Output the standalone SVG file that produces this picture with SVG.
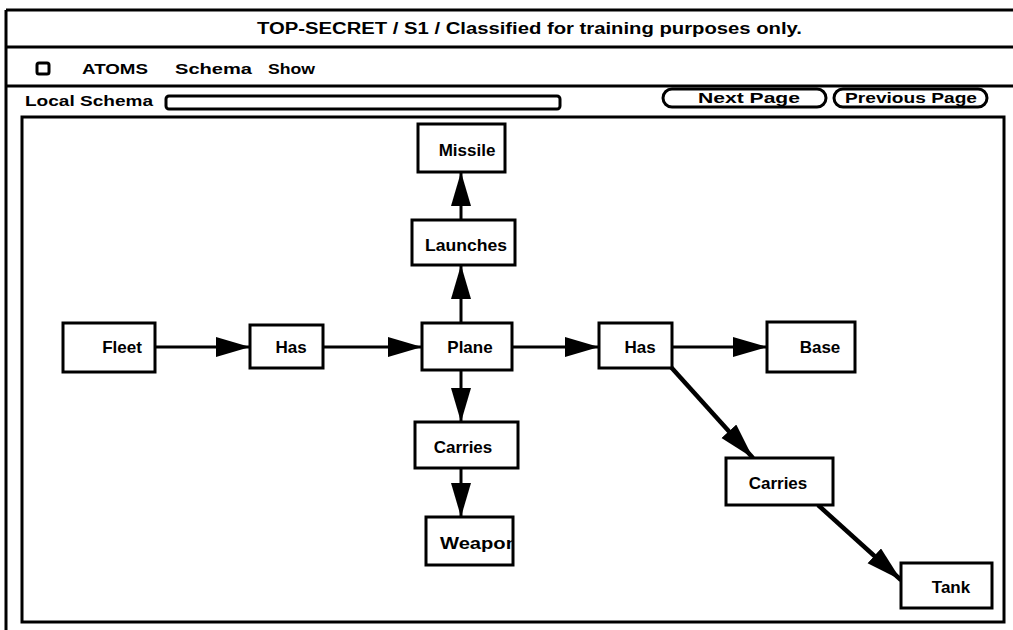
<svg xmlns="http://www.w3.org/2000/svg" width="1013" height="630" viewBox="0 0 1013 630">
<style>
  text { font-family: "Liberation Sans", Arial, sans-serif; font-weight: bold; fill: #000; }
  .frame { fill: none; stroke: #000; stroke-width: 3; }
  .node rect { fill: #fff; stroke: #000; stroke-width: 3; }
  .node text { font-size: 17px; text-anchor: middle; }
  .conn line { stroke: #000; stroke-width: 3; marker-end: url(#arrow); }
  .conn line.diag { stroke-width: 4.5; marker-end: url(#arrowD); }
  .ui { font-size: 15px; }
  .btn { fill: #fff; stroke: #000; stroke-width: 3; }
</style>
<defs>
  <marker id="arrow" markerUnits="userSpaceOnUse" markerWidth="36" markerHeight="22" refX="34" refY="10" orient="auto">
    <path d="M0,0 L34,10 L0,20 Z" fill="#000"/>
  </marker>
  <marker id="arrowD" markerUnits="userSpaceOnUse" markerWidth="38" markerHeight="22" refX="36" refY="10" orient="auto">
    <path d="M0,0 L36,10 L0,20 Z" fill="#000"/>
  </marker>
  <clipPath id="weaponClip"><rect x="426" y="517" width="86" height="48"/></clipPath>
</defs>
<rect x="0" y="0" width="1013" height="630" fill="#fff"/>

<g id="window">
  <line x1="6" y1="10" x2="1013" y2="10" stroke="#000" stroke-width="3"/>
  <line x1="6" y1="10" x2="6" y2="630" stroke="#000" stroke-width="3"/>
  <line x1="6" y1="47" x2="1013" y2="47" stroke="#000" stroke-width="3"/>
  <line x1="6" y1="86" x2="1013" y2="86" stroke="#000" stroke-width="3"/>
  <text x="257" y="34" font-size="16" textLength="545" lengthAdjust="spacingAndGlyphs">TOP-SECRET / S1 / Classified for training purposes only.</text>
  <rect x="37" y="63" width="12" height="11" rx="2" class="frame"/>
  <text class="ui" x="82" y="74" textLength="66" lengthAdjust="spacingAndGlyphs">ATOMS</text>
  <text class="ui" x="175" y="74" textLength="77" lengthAdjust="spacingAndGlyphs">Schema</text>
  <text class="ui" x="268" y="74" textLength="47" lengthAdjust="spacingAndGlyphs">Show</text>
  <text class="ui" x="25" y="106" textLength="128" lengthAdjust="spacingAndGlyphs">Local Schema</text>
  <rect x="166" y="96" width="394" height="13" rx="3" class="frame"/>
  <rect x="663" y="89" width="163" height="18" rx="9" class="btn"/>
  <text class="ui" x="749" y="103" text-anchor="middle" textLength="102" lengthAdjust="spacingAndGlyphs">Next Page</text>
  <rect x="834" y="89" width="153" height="18" rx="9" class="btn"/>
  <text class="ui" x="911" y="103" text-anchor="middle" textLength="132" lengthAdjust="spacingAndGlyphs">Previous Page</text>
  <rect x="22" y="117" width="982" height="505" class="frame"/>
</g>

<g id="connectors" class="conn">
  <line x1="155" y1="347" x2="250" y2="347"/>
  <line x1="323" y1="347" x2="422" y2="347"/>
  <line x1="512" y1="347" x2="599" y2="347"/>
  <line x1="672" y1="347" x2="767" y2="347"/>
  <line x1="461" y1="323" x2="461" y2="265"/>
  <line x1="461" y1="220" x2="461" y2="172"/>
  <line x1="461" y1="370" x2="461" y2="422"/>
  <line x1="461" y1="468" x2="461" y2="517"/>
  <line class="diag" x1="670" y1="366" x2="753" y2="458"/>
  <line class="diag" x1="818" y1="505" x2="901" y2="580"/>
</g>

<g id="node-fleet" class="node">
  <rect x="63" y="323" width="92" height="49"/>
  <text x="122" y="353">Fleet</text>
</g>
<g id="node-has1" class="node">
  <rect x="250" y="325" width="73" height="43"/>
  <text x="291" y="353">Has</text>
</g>
<g id="node-plane" class="node">
  <rect x="422" y="323" width="90" height="47"/>
  <text x="470" y="353">Plane</text>
</g>
<g id="node-has2" class="node">
  <rect x="599" y="323" width="73" height="45"/>
  <text x="640" y="353">Has</text>
</g>
<g id="node-base" class="node">
  <rect x="767" y="322" width="88" height="50"/>
  <text x="820" y="353">Base</text>
</g>
<g id="node-launches" class="node">
  <rect x="412" y="220" width="103" height="45"/>
  <text x="466" y="251" textLength="82" lengthAdjust="spacingAndGlyphs">Launches</text>
</g>
<g id="node-missile" class="node">
  <rect x="418" y="124" width="87" height="48"/>
  <text x="467" y="156">Missile</text>
</g>
<g id="node-carries1" class="node">
  <rect x="415" y="422" width="103" height="46"/>
  <text x="463" y="453">Carries</text>
</g>
<g id="node-weapon" class="node">
  <rect x="426" y="517" width="87" height="48"/>
  <text x="440" y="549" style="text-anchor:start" textLength="78" lengthAdjust="spacingAndGlyphs" clip-path="url(#weaponClip)">Weapon</text>
</g>
<g id="node-carries2" class="node">
  <rect x="726" y="458" width="107" height="47"/>
  <text x="778" y="489">Carries</text>
</g>
<g id="node-tank" class="node">
  <rect x="901" y="563" width="91" height="45"/>
  <text x="951" y="593">Tank</text>
</g>
</svg>
